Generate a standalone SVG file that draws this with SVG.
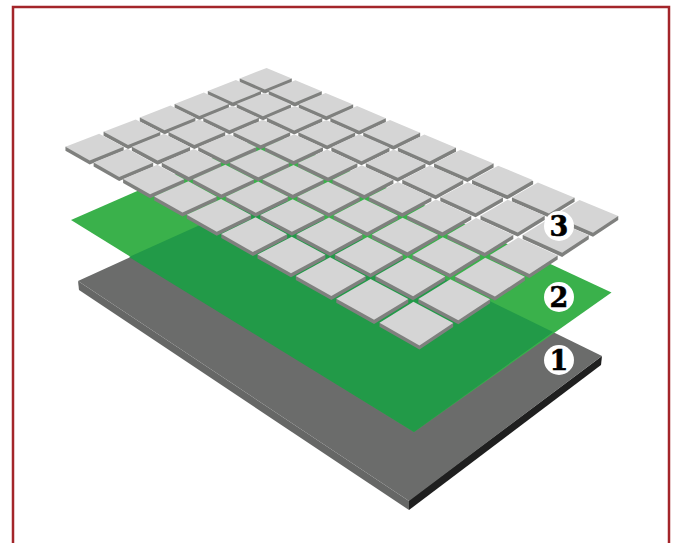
<svg xmlns="http://www.w3.org/2000/svg" width="675" height="543" viewBox="0 0 675 543">
<style>
.s{fill:#7f807e}
.t{fill:#d5d5d5}
.c{fill:#fff}
.n{font-family:"DejaVu Serif","Liberation Serif",serif;font-weight:700;font-size:27px;fill:#000;stroke:#000;stroke-width:.6;text-anchor:middle}
</style>
<rect width="675" height="543" fill="#fff"/>
<path d="M13 544V7H669V544" fill="none" stroke="#a3252a" stroke-width="2.5"/>
<g id="base">
<polygon points="78,281 409,501 409,510 79,290" fill="#666766"/>
<polygon points="409,500 602,356 601,365 409,510" fill="#1f1f1f"/>
<polygon points="78,281 270,193.5 602,356 409,501" fill="#6b6c6b"/>
</g>
<g id="green">
<polygon points="71,220 269.6,133 611.5,292.5 414,432" fill="#3ab14b"/>
<polygon points="129,257 270,193.5 553,332 414,432" fill="#229a48"/>
</g>
<g id="tile-sides" transform="translate(342 207) scale(1.006) translate(-342 -207)">
<path class="s" d="M240.3 79.2v4L265.3 94.2 292.1 83.3v-4z"/>
<path class="s" d="M269.1 91.8v4L295.2 107.2 321.9 95.9v-4z"/>
<path class="s" d="M299 104.9v4L326.4 120.8 353.1 109v-4z"/>
<path class="s" d="M330.4 118.6v4L359 135.1 385.6 122.7v-4z"/>
<path class="s" d="M363.1 132.9v4L393.2 150 419.7 137.1v-4z"/>
<path class="s" d="M397.5 147.9v4L429.1 165.7 455.3 152.1v-4z"/>
<path class="s" d="M433.5 163.7v4L466.7 182.1 492.7 167.8v-4z"/>
<path class="s" d="M471.3 180.2v4L506.2 199.4 532 184.4v-4z"/>
<path class="s" d="M510.9 197.5v4L547.8 217.5 573.2 201.7v-4z"/>
<path class="s" d="M552.7 215.8v4L591.5 236.6 616.6 220v-4z"/>
<path class="s" d="M208.6 91.6v4L233.5 107.1 261.5 95.8v-4z"/>
<path class="s" d="M237.3 104.7v4L263.4 120.7 291.3 108.9v-4z"/>
<path class="s" d="M267.3 118.4v4L294.5 135 322.4 122.6v-4z"/>
<path class="s" d="M298.6 132.7v4L327.2 149.8 355.1 136.9v-4z"/>
<path class="s" d="M331.4 147.7v4L361.4 165.5 389.2 151.9v-4z"/>
<path class="s" d="M365.7 163.5v4L397.4 181.9 425 167.7v-4z"/>
<path class="s" d="M401.9 180v4L435.1 199.2 462.5 184.2v-4z"/>
<path class="s" d="M439.7 197.3v4L474.8 217.3 502 201.5v-4z"/>
<path class="s" d="M479.7 215.6v4L516.7 236.4 543.5 219.8v-4z"/>
<path class="s" d="M521.6 234.8v4L560.8 256.6 587.3 239v-4z"/>
<path class="s" d="M175.6 104.5v4L200.3 120.5 229.6 108.7v-4z"/>
<path class="s" d="M204.1 118.2v4L230.1 134.8 259.4 122.4v-4z"/>
<path class="s" d="M234 132.6v4L261.2 149.6 290.5 136.7v-4z"/>
<path class="s" d="M265.2 147.5v4L293.9 165.3 323.1 151.7v-4z"/>
<path class="s" d="M298.1 163.3v4L328.1 181.7 357.3 167.5v-4z"/>
<path class="s" d="M332.5 179.8v4L364.1 199 393.1 184v-4z"/>
<path class="s" d="M368.6 197.1v4L401.9 217 430.9 201.3v-4z"/>
<path class="s" d="M406.7 215.4v4L441.8 236.2 470.5 219.6v-4z"/>
<path class="s" d="M446.7 234.6v4L483.9 256.4 512.3 238.8v-4z"/>
<path class="s" d="M489 254.8v4L528.3 277.6 556.4 259.1v-4z"/>
<path class="s" d="M141 118.1v4L165.6 134.6 196.3 122.2v-4z"/>
<path class="s" d="M169.5 132.4v4L195.2 149.4 225.9 136.5v-4z"/>
<path class="s" d="M199.1 147.4v4L226.3 165.1 257 151.5v-4z"/>
<path class="s" d="M230.4 163.1v4L258.8 181.5 289.6 167.3v-4z"/>
<path class="s" d="M263 179.6v4L293.1 198.7 323.8 183.8v-4z"/>
<path class="s" d="M297.5 196.9v4L329.1 216.9 359.7 201.1v-4z"/>
<path class="s" d="M333.7 215.1v4L367 236 397.5 219.4v-4z"/>
<path class="s" d="M371.7 234.3v4L407 256.1 437.4 238.6v-4z"/>
<path class="s" d="M412 254.6v4L449.3 277.4 479.3 258.8v-4z"/>
<path class="s" d="M454.4 276v4L494 300 523.8 280.3v-4z"/>
<path class="s" d="M105 132.2v4L129.3 149.3 161.4 136.4v-4z"/>
<path class="s" d="M133.1 147.2v4L158.7 164.9 191 151.4v-4z"/>
<path class="s" d="M162.8 162.9v4L189.6 181.3 221.9 167.1v-4z"/>
<path class="s" d="M193.7 179.4v4L222.1 198.5 254.5 183.6v-4z"/>
<path class="s" d="M226.4 196.7v4L256.3 216.7 288.6 200.9v-4z"/>
<path class="s" d="M260.7 214.9v4L292.2 235.7 324.6 219.1v-4z"/>
<path class="s" d="M296.8 234.1v4L330.2 255.9 362.4 238.3v-4z"/>
<path class="s" d="M334.9 254.4v4L370.3 277.1 402.5 258.6v-4z"/>
<path class="s" d="M375.2 275.7v4L412.7 299.7 444.6 280v-4z"/>
<path class="s" d="M417.9 298.4v4L457.6 323.5 489.2 302.6v-4z"/>
<path class="s" d="M67.1 147v4L91.2 164.7 125 151.2v-4z"/>
<path class="s" d="M95.1 162.7v4L120.5 181.2 154.3 166.9v-4z"/>
<path class="s" d="M124.4 179.2v4L151.2 198.3 185.2 183.4v-4z"/>
<path class="s" d="M155.3 196.5v4L183.5 216.5 217.5 200.7v-4z"/>
<path class="s" d="M187.7 214.7v4L217.5 235.5 251.7 218.9v-4z"/>
<path class="s" d="M222 233.9v4L253.4 255.7 287.5 238.1v-4z"/>
<path class="s" d="M258 254.1v4L291.3 276.9 325.5 258.4v-4z"/>
<path class="s" d="M296.1 275.5v4L331.4 299.4 365.5 279.8v-4z"/>
<path class="s" d="M336.3 298.1v4L373.9 323.2 407.9 302.4v-4z"/>
<path class="s" d="M379.3 322.1v4L419 348.6 452.5 326.4v-4z"/>
</g>
<g id="tile-tops" transform="translate(342 207) scale(1.006) translate(-342 -207)">
<polygon class="t" points="267,68.8 292.1,79.3 265.3,90.2 240.3,79.2"/>
<polygon class="t" points="295.7,80.9 321.9,91.9 295.2,103.2 269.1,91.8"/>
<polygon class="t" points="325.7,93.6 353.1,105 326.4,116.8 299,104.9"/>
<polygon class="t" points="357,106.7 385.6,118.7 359,131.1 330.4,118.6"/>
<polygon class="t" points="389.7,120.6 419.7,133.1 393.2,146 363.1,132.9"/>
<polygon class="t" points="423.9,135 455.3,148.1 429.1,161.7 397.5,147.9"/>
<polygon class="t" points="459.7,150.1 492.7,163.8 466.7,178.1 433.5,163.7"/>
<polygon class="t" points="497.2,165.9 532,180.4 506.2,195.4 471.3,180.2"/>
<polygon class="t" points="536.7,182.6 573.2,197.7 547.8,213.5 510.9,197.5"/>
<polygon class="t" points="578.1,200 616.6,216 591.5,232.6 552.7,215.8"/>
<polygon class="t" points="236.5,80.7 261.5,91.8 233.5,103.1 208.6,91.6"/>
<polygon class="t" points="265.2,93.4 291.3,104.9 263.4,116.7 237.3,104.7"/>
<polygon class="t" points="295.1,106.6 322.4,118.6 294.5,131 267.3,118.4"/>
<polygon class="t" points="326.4,120.4 355.1,132.9 327.2,145.8 298.6,132.7"/>
<polygon class="t" points="359.2,134.8 389.2,147.9 361.4,161.5 331.4,147.7"/>
<polygon class="t" points="393.4,149.9 425,163.7 397.4,177.9 365.7,163.5"/>
<polygon class="t" points="429.4,165.7 462.5,180.2 435.1,195.2 401.9,180"/>
<polygon class="t" points="467.1,182.4 502,197.5 474.8,213.3 439.7,197.3"/>
<polygon class="t" points="506.8,199.8 543.5,215.8 516.7,232.4 479.7,215.6"/>
<polygon class="t" points="548.5,218.1 587.3,235 560.8,252.6 521.6,234.8"/>
<polygon class="t" points="204.7,93.3 229.6,104.7 200.3,116.5 175.6,104.5"/>
<polygon class="t" points="233.3,106.4 259.4,118.4 230.1,130.8 204.1,118.2"/>
<polygon class="t" points="263.2,120.2 290.5,132.7 261.2,145.6 234,132.6"/>
<polygon class="t" points="294.5,134.6 323.1,147.7 293.9,161.3 265.2,147.5"/>
<polygon class="t" points="327.2,149.8 357.3,163.5 328.1,177.7 298.1,163.3"/>
<polygon class="t" points="361.6,165.5 393.1,180 364.1,195 332.5,179.8"/>
<polygon class="t" points="397.6,182.2 430.9,197.3 401.9,213 368.6,197.1"/>
<polygon class="t" points="435.5,199.6 470.5,215.6 441.8,232.2 406.7,215.4"/>
<polygon class="t" points="475.3,217.9 512.3,234.8 483.9,252.4 446.7,234.6"/>
<polygon class="t" points="517.3,237.3 556.4,255.1 528.3,273.6 489,254.8"/>
<polygon class="t" points="171.5,106.2 196.3,118.2 165.6,130.6 141,118.1"/>
<polygon class="t" points="200,120.1 225.9,132.5 195.2,145.4 169.5,132.4"/>
<polygon class="t" points="229.8,134.4 257,147.5 226.3,161.1 199.1,147.4"/>
<polygon class="t" points="261.1,149.6 289.6,163.3 258.8,177.5 230.4,163.1"/>
<polygon class="t" points="293.8,165.3 323.8,179.8 293.1,194.7 263,179.6"/>
<polygon class="t" points="328.1,181.9 359.7,197.1 329.1,212.9 297.5,196.9"/>
<polygon class="t" points="364.2,199.4 397.5,215.4 367,232 333.7,215.1"/>
<polygon class="t" points="402.2,217.7 437.4,234.6 407,252.1 371.7,234.3"/>
<polygon class="t" points="442.2,237 479.3,254.8 449.3,273.4 412,254.6"/>
<polygon class="t" points="484.4,257.4 523.8,276.3 494,296 454.4,276"/>
<polygon class="t" points="136.9,119.9 161.4,132.4 129.3,145.3 105,132.2"/>
<polygon class="t" points="165.2,134.2 191,147.4 158.7,160.9 133.1,147.2"/>
<polygon class="t" points="194.9,149.4 221.9,163.1 189.6,177.3 162.8,162.9"/>
<polygon class="t" points="226,165.1 254.5,179.6 222.1,194.5 193.7,179.4"/>
<polygon class="t" points="258.7,181.7 288.6,196.9 256.3,212.7 226.4,196.7"/>
<polygon class="t" points="293,199.2 324.6,215.1 292.2,231.7 260.7,214.9"/>
<polygon class="t" points="329.1,217.4 362.4,234.3 330.2,251.9 296.8,234.1"/>
<polygon class="t" points="367.2,236.8 402.5,254.6 370.3,273.1 334.9,254.4"/>
<polygon class="t" points="407.3,257.1 444.6,276 412.7,295.7 375.2,275.7"/>
<polygon class="t" points="449.7,278.7 489.2,298.6 457.6,319.5 417.9,298.4"/>
<polygon class="t" points="100.6,134.1 125,147.2 91.2,160.7 67.1,147"/>
<polygon class="t" points="128.8,149.1 154.3,162.9 120.5,177.2 95.1,162.7"/>
<polygon class="t" points="158.3,165 185.2,179.4 151.2,194.3 124.4,179.2"/>
<polygon class="t" points="189.3,181.5 217.5,196.7 183.5,212.5 155.3,196.5"/>
<polygon class="t" points="221.8,199 251.7,214.9 217.5,231.5 187.7,214.7"/>
<polygon class="t" points="256.1,217.2 287.5,234.1 253.4,251.7 222,233.9"/>
<polygon class="t" points="292.1,236.6 325.5,254.4 291.3,272.9 258,254.1"/>
<polygon class="t" points="330.2,256.9 365.5,275.8 331.4,295.4 296.1,275.5"/>
<polygon class="t" points="370.4,278.5 407.9,298.4 373.9,319.2 336.3,298.1"/>
<polygon class="t" points="413,301.2 452.5,322.4 419,344.6 379.3,322.1"/>
</g>
<g id="badge-3"><circle class="c" cx="559" cy="226" r="15"/><text class="n" x="559" y="236">3</text></g>
<g id="badge-2"><circle class="c" cx="559" cy="297" r="15"/><text class="n" x="559" y="307">2</text></g>
<g id="badge-1"><circle class="c" cx="559" cy="360" r="15"/><text class="n" x="559" y="370">1</text></g>
</svg>
